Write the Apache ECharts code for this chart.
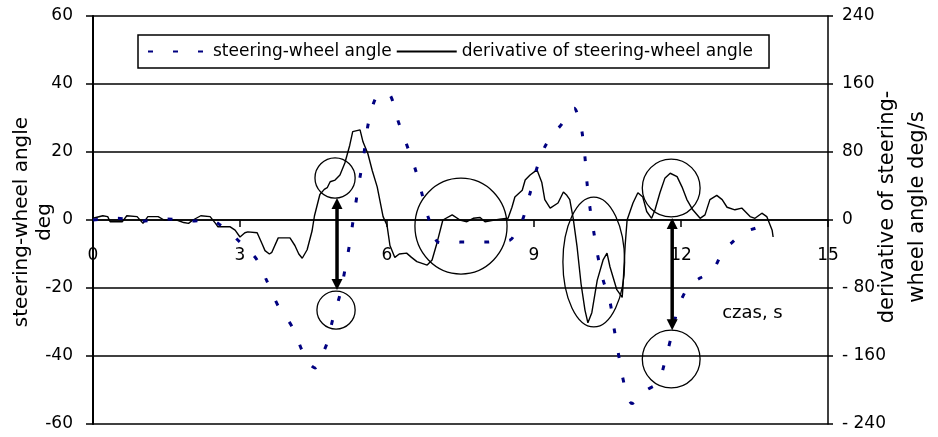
<!DOCTYPE html>
<html>
<head>
<meta charset="utf-8">
<script src="https://cdn.jsdelivr.net/npm/echarts@6/dist/echarts.min.js"></script>
<style>
  html, body { margin: 0; padding: 0; background: #fff; }
  #chart { width: 938px; height: 437px; }
</style>
</head>
<body>
<div id="chart"></div>
<script>
// Time axis (s) and tick labels
const xTicks = [0, 3, 6, 9, 12, 15];
const angleTicks = [-60, -40, -20, 0, 20, 40, 60];
const rateTicks = [-240, -160, -80, 0, 80, 160, 240];

// Steering-wheel angle, deg
const steerTime = [0, 0.5, 1.0, 1.5, 2.0, 2.4, 2.6, 2.8, 2.95, 3.15, 3.35, 3.55, 3.78, 4.06, 4.27, 4.4, 4.53, 4.65, 4.78, 4.9,
  5.04, 5.15, 5.24, 5.31, 5.39, 5.47, 5.55, 5.62, 5.76, 5.9, 6.06, 6.22, 6.39, 6.57, 6.71, 6.84, 7.04, 7.25, 7.5, 7.75,
  8.0, 8.25, 8.51, 8.65, 8.78, 8.92, 9.06, 9.22, 9.4, 9.55, 9.7, 9.82, 9.92, 9.98, 10.04, 10.08, 10.14, 10.22, 10.29, 10.41,
  10.55, 10.63, 10.71, 10.8, 10.9, 11.0, 11.12, 11.3, 11.53, 11.69, 11.82, 11.94, 12.16, 12.4, 12.63, 12.86, 13.05, 13.27, 13.5, 13.75];
const steerAngle = [0, 0.5, -0.3, 0.3, -0.3, 0, -1.5, -3.5, -5.8, -8.5, -11.8, -18, -25.3, -31.3, -38.5, -42, -43.5, -40.5, -36, -28.8,
  -22, -14, -6.8, 0, 7.4, 14.4, 21.5, 28.5, 35.6, 37.3, 36.8, 29.4, 22.6, 15.3, 7.9, 0.9, -6.5, -6.8, -6.5, -6.5,
  -6.5, -6.2, -5.9, -3, 0.6, 7.9, 15.3, 21.5, 25.5, 27.9, 31, 32.9, 29.5, 25.9, 18.5, 11.2, 3.8, -3.5, -9.7, -17.6,
  -24, -31.5, -38.2, -45.6, -51.5, -54, -52.5, -50, -47.9, -40.6, -33.2, -25.9, -19.4, -17, -15.3, -9.1, -6.5, -3.8, -2.5, -1.5];

// Derivative of steering-wheel angle, deg/s
const rateTime = [0, 0.2, 0.3, 0.35, 0.6, 0.69, 0.9, 1.02, 1.12, 1.33, 1.45, 1.71, 1.85, 1.95, 2.04, 2.2, 2.39, 2.5, 2.55, 2.8,
  2.9, 3.0, 3.1, 3.16, 3.35, 3.45, 3.51, 3.6, 3.65, 3.78, 3.9, 4.02, 4.12, 4.2, 4.27, 4.37, 4.47, 4.52, 4.63, 4.72,
  4.78, 4.84, 4.94, 5.04, 5.14, 5.24, 5.3, 5.45, 5.51, 5.61, 5.7, 5.8, 5.92, 6.0, 6.06, 6.16, 6.25, 6.4, 6.5, 6.61,
  6.82, 6.92, 7.02, 7.14, 7.33, 7.49, 7.63, 7.76, 7.9, 8.0, 8.3, 8.47, 8.55, 8.61, 8.76, 8.82, 8.92, 9.06, 9.16, 9.22,
  9.33, 9.49, 9.6, 9.67, 9.73, 9.8, 9.88, 9.96, 10.04, 10.1, 10.18, 10.29, 10.41, 10.49, 10.55, 10.69, 10.8, 10.82, 10.86, 10.9,
  11.02, 11.12, 11.22, 11.3, 11.4, 11.47, 11.57, 11.67, 11.78, 11.92, 12.02, 12.12, 12.24, 12.39, 12.49, 12.59, 12.73, 12.84, 12.94, 13.1,
  13.24, 13.41, 13.51, 13.65, 13.75, 13.86, 13.88];
const rateValue = [2, 5, 4, -2, -2, 5, 4, -4, 4, 4, 0, 0, -3, -4, 0, 5, 4, -4, -8, -8,
  -12, -20, -15, -14, -15, -28, -36, -40, -38, -21, -21, -21, -30, -40, -45, -35, -13, 5, 30, 36,
  38, 45, 47, 53, 67, 88, 104, 106, 92, 78, 58, 39, 4, -6, -30, -44, -40, -39, -44, -49,
  -53, -47, -27, 0, 6, 0, -2, 2, 3, -2, 1, 2, 15, 27, 35, 47, 53, 59, 44, 24,
  14, 20, 33, 29, 24, 2, -32, -75, -106, -121, -109, -71, -47, -39, -55, -82, -91, -74, -30, 0,
  20, 32, 27, 10, 2, 12, 32, 49, 55, 51, 39, 24, 12, 2, 6, 24, 29, 24, 15, 12,
  14, 4, 2, 8, 4, -12, -20];

// Highlight rings: [time, angle, half-width (s), half-height (deg)]
const rings = [
  [4.94, 12.35, 0.41, 5.9],
  [4.96, -26.5, 0.39, 5.6],
  [7.51, -1.8, 0.94, 14.1],
  [10.22, -12.35, 0.63, 19.1],
  [11.8, 9.4, 0.59, 8.5],
  [11.8, -40.9, 0.59, 8.5]
];
// Double-headed arrows: [time, top angle, bottom angle]
const arrows = [
  [4.98, 6.5, -20.6],
  [11.82, 0.6, -32.4]
];

const FONT = 'DejaVu Sans';
const zip = (a, b) => a.map((v, i) => [v, b[i]]);

const W = 938, H = 437;
const GRID = { left: 93, right: 110, top: 16, bottom: 13 };
// The time axis runs along the zero line, halfway down the symmetric value range
const zeroOffset = -(H - GRID.top - GRID.bottom) / 2;

const chart = echarts.init(document.getElementById('chart'), null, { renderer: 'canvas', width: W, height: H });

chart.setOption({
  animation: false,
  backgroundColor: '#fff',
  textStyle: { fontFamily: FONT, color: '#000' },
  grid: Object.assign({ containLabel: false, outerBoundsMode: 'none' }, GRID),
  legend: {
    left: 138, top: 35,
    padding: [8, 16, 8, 9],
    itemGap: 4,
    itemWidth: 60, itemHeight: 14,
    borderColor: '#000', borderWidth: 1.5,
    itemStyle: { opacity: 0 },
    textStyle: { fontFamily: FONT, fontSize: 17, color: '#000' },
    data: ['steering-wheel angle', 'derivative of steering-wheel angle']
  },
  xAxis: {
    type: 'value', min: xTicks[0], max: xTicks[xTicks.length - 1], interval: 3,
    position: 'bottom',
    offset: zeroOffset,
    axisLine: { onZero: false, lineStyle: { color: '#000', width: 1.5 } },
    axisTick: { show: true, length: 7, lineStyle: { color: '#000', width: 1.5 } },
    axisLabel: { margin: 27, fontSize: 17, color: '#000', fontFamily: FONT },
    splitLine: { show: false }
  },
  yAxis: [
    {
      type: 'value', min: angleTicks[0], max: angleTicks[angleTicks.length - 1], interval: 20,
      axisLine: { show: true, onZero: false, lineStyle: { color: '#000', width: 2 } },
      axisTick: { show: true, length: 7, lineStyle: { color: '#000', width: 1.5 } },
      axisLabel: { margin: 20, fontSize: 17, color: '#000', fontFamily: FONT },
      splitLine: { show: true, lineStyle: { color: '#000', width: 1.5 } }
    },
    {
      type: 'value', min: rateTicks[0], max: rateTicks[rateTicks.length - 1], interval: 80,
      position: 'right',
      axisLine: { show: true, onZero: false, lineStyle: { color: '#000', width: 1.5 } },
      axisTick: { show: true, length: 5, lineStyle: { color: '#000', width: 1.5 } },
      axisLabel: {
        margin: 14, fontSize: 17, color: '#000', fontFamily: FONT,
        formatter: v => (v < 0 ? '- ' + Math.abs(v) : String(v))
      },
      splitLine: { show: false }
    }
  ],
  series: [
    {
      name: 'steering-wheel angle',
      type: 'line',
      yAxisIndex: 0,
      data: zip(steerTime, steerAngle),
      smooth: 0.3,
      showSymbol: false,
      symbol: 'none',
      color: '#000080',
      lineStyle: { color: '#000080', width: 3, type: [5, 20] },
      z: 3
    },
    {
      name: 'derivative of steering-wheel angle',
      type: 'line',
      yAxisIndex: 1,
      data: zip(rateTime, rateValue),
      showSymbol: false,
      symbol: 'none',
      color: '#000',
      lineStyle: { color: '#000', width: 1.4 },
      z: 2
    }
  ]
});

// Annotations placed through the axis scales
const px = (t, a) => chart.convertToPixel({ xAxisIndex: 0, yAxisIndex: 0 }, [t, a]);
const graphics = [];

rings.forEach(([t, a, ht, ha]) => {
  const c = px(t, a);
  const e = px(t + ht, a + ha);
  graphics.push({
    type: 'ellipse',
    shape: { cx: c[0], cy: c[1], rx: Math.abs(e[0] - c[0]), ry: Math.abs(c[1] - e[1]) },
    style: { fill: 'none', stroke: '#000', lineWidth: 1.3 },
    z: 10
  });
});

arrows.forEach(([t, top, bottom]) => {
  const p1 = px(t, top);
  const p2 = px(t, bottom);
  const x = p1[0], y1 = p1[1], y2 = p2[1];
  const head = 11, hw = 5.5;
  graphics.push({
    type: 'line',
    shape: { x1: x, y1: y1 + head - 2, x2: x, y2: y2 - head + 2 },
    style: { stroke: '#000', lineWidth: 3.5 },
    z: 11
  });
  graphics.push({
    type: 'polygon',
    shape: { points: [[x, y1], [x - hw, y1 + head], [x + hw, y1 + head]] },
    style: { fill: '#000' },
    z: 11
  });
  graphics.push({
    type: 'polygon',
    shape: { points: [[x, y2], [x - hw, y2 - head], [x + hw, y2 - head]] },
    style: { fill: '#000' },
    z: 11
  });
});

// Time axis caption inside the plot
const cap = px(12.84, -27.35);
graphics.push({
  type: 'text', x: cap[0], y: cap[1],
  style: { text: 'czas, s', fontFamily: FONT, fontSize: 18, fill: '#000', align: 'left', verticalAlign: 'middle' },
  z: 12
});

// Axis titles
const vTitle = (text, x, y, size) => ({
  type: 'text', x: x, y: y, rotation: Math.PI / 2,
  style: { text: text, fontFamily: FONT, fontSize: size, fill: '#000', align: 'center', verticalAlign: 'middle' },
  z: 12
});
graphics.push(vTitle('steering-wheel angle', 22, 222, 20));
graphics.push(vTitle('deg', 45, 222, 20));
graphics.push(vTitle('derivative of steering-', 888, 207, 21));
graphics.push(vTitle('wheel angle deg/s', 918, 207, 21));

chart.setOption({ graphic: graphics });
</script>
</body>
</html>
